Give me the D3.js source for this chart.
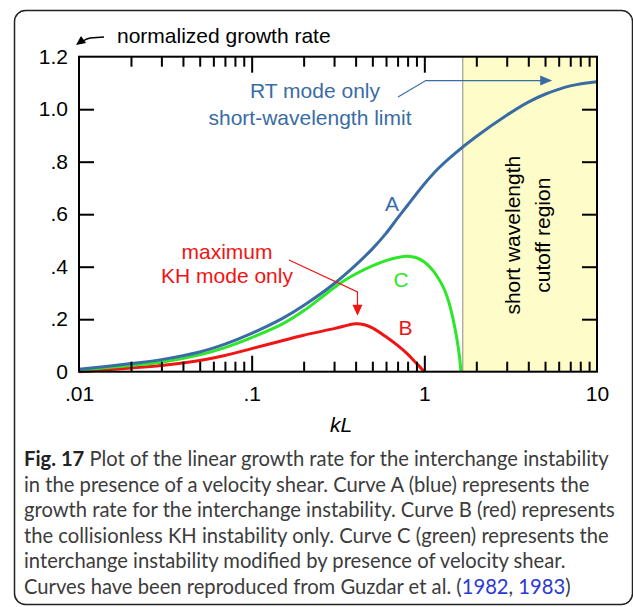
<!DOCTYPE html>
<html>
<head>
<meta charset="utf-8">
<script src="https://cdn.jsdelivr.net/npm/d3@7"></script>
<style>
  body { margin: 0; background: #fff; }
  svg { display: block; }
</style>
</head>
<body>
<svg id="chart" width="633" height="607"></svg>
<script>
// Curve A (blue): interchange growth rate
const kA = [0.01, 0.02, 0.03, 0.05, 0.07, 0.1, 0.15, 0.2, 0.3, 0.4, 0.5, 0.6, 0.7, 0.8, 1.0, 1.2, 1.5, 2, 3, 4, 5, 7, 10];
const gA = [0.009, 0.031, 0.046, 0.075, 0.105, 0.146, 0.202, 0.252, 0.335, 0.406, 0.468, 0.527, 0.585, 0.634, 0.715, 0.773, 0.831, 0.896, 0.977, 1.027, 1.057, 1.089, 1.105];

// Curve B (red): collisionless KH instability only
const kB = [0.01, 0.02, 0.03, 0.05, 0.07, 0.1, 0.15, 0.2, 0.3, 0.4, 0.45, 0.5, 0.6, 0.7, 0.8, 0.9, 1.0];
const gB = [0.0, 0.014, 0.024, 0.043, 0.062, 0.088, 0.118, 0.139, 0.164, 0.183, 0.179, 0.167, 0.133, 0.1, 0.067, 0.032, 0];

// Curve C (green): interchange modified by velocity shear
const kC = [0.01, 0.02, 0.03, 0.05, 0.07, 0.1, 0.15, 0.2, 0.25, 0.3, 0.35, 0.4, 0.5, 0.6, 0.7, 0.8, 0.9, 1.0, 1.1, 1.2, 1.3, 1.4, 1.5, 1.55, 1.6, 1.63];
const gC = [0.006, 0.024, 0.036, 0.064, 0.092, 0.13, 0.181, 0.232, 0.28, 0.32, 0.35, 0.372, 0.403, 0.423, 0.435, 0.44, 0.434, 0.418, 0.392, 0.358, 0.316, 0.255, 0.17, 0.118, 0.055, 0];

// Axis ticks
const xTickValues = [0.01, 0.1, 1, 10];
const xTickLabels = [".01", ".1", "1", "10"];
const yTickValues = [0, 0.2, 0.4, 0.6, 0.8, 1.0, 1.2];
const yTickLabels = ["0", ".2", ".4", ".6", ".8", "1.0", "1.2"];

// Start of the short-wavelength cutoff band (kL)
const cutoffStart = 1.67;

const captionLines = [
  [["Fig. 17", "bold"], [" Plot of the linear growth rate for the interchange instability", "plain"]],
  [["in the presence of a velocity shear. Curve A (blue) represents the", "plain"]],
  [["growth rate for the interchange instability. Curve B (red) represents", "plain"]],
  [["the collisionless KH instability only. Curve C (green) represents the", "plain"]],
  [["interchange instability modified by presence of velocity shear.", "plain"]],
  [["Curves have been reproduced from Guzdar et al. (", "plain"], ["1982", "link"], [", ", "plain"], ["1983", "link"], [")", "plain"]]
];

const BLUE = "#3a6ca4", RED = "#f01414", GREEN = "#2ee62a", YELLOW = "#fefdc9";
const FONT = "'Liberation Sans', Arial, Helvetica, sans-serif";

const svg = d3.select("#chart");

// Outer panel
svg.append("rect")
  .attr("x", 14.5).attr("y", 10.5)
  .attr("width", 618).attr("height", 594)
  .attr("rx", 11)
  .attr("fill", "none").attr("stroke", "#222").attr("stroke-width", 1.5);

const x = d3.scaleLog().domain([0.01, 10]).range([79, 597]);
const y = d3.scaleLinear().domain([0, 1.2]).range([371.7, 56.7]);

// Short wavelength cutoff band
svg.append("rect")
  .attr("x", x(cutoffStart)).attr("y", y(1.2))
  .attr("width", x(10) - x(cutoffStart)).attr("height", y(0) - y(1.2))
  .attr("fill", YELLOW);
svg.append("line")
  .attr("x1", x(cutoffStart)).attr("x2", x(cutoffStart))
  .attr("y1", y(1.2)).attr("y2", y(0))
  .attr("stroke", "#8a8a80").attr("stroke-width", 1);

svg.append("text")
  .attr("transform", `translate(${x(cutoffStart) + 57},${y(0.52)}) rotate(-90)`)
  .attr("text-anchor", "middle")
  .attr("font-family", FONT).attr("font-size", 21)
  .text("short wavelength");
svg.append("text")
  .attr("transform", `translate(${x(cutoffStart) + 87},${y(0.52)}) rotate(-90)`)
  .attr("text-anchor", "middle")
  .attr("font-family", FONT).attr("font-size", 21)
  .text("cutoff region");

// Curves
const line = d3.line()
  .x(d => x(d[0]))
  .y(d => y(d[1]))
  .curve(d3.curveCatmullRom.alpha(0.5));

const series = [
  { k: kB, g: gB, color: RED },
  { k: kC, g: gC, color: GREEN },
  { k: kA, g: gA, color: BLUE }
];
series.forEach(s => {
  svg.append("path")
    .datum(d3.zip(s.k, s.g))
    .attr("d", line)
    .attr("fill", "none")
    .attr("stroke", s.color)
    .attr("stroke-width", 3)
    .attr("stroke-linejoin", "round");
});

// Ticks
const minorX = [];
[0.01, 0.1, 1].forEach(dec => { for (let m = 2; m <= 9; m++) minorX.push(+(m * dec).toPrecision(3)); });
const majorX = [0.1, 1];
const innerY = [0.2, 0.4, 0.6, 0.8, 1.0];

function styleTicks(g) {
  g.select(".domain").remove();
  g.selectAll(".tick line").attr("stroke", "#000").attr("stroke-width", 2);
  g.selectAll(".tick text").remove();
}

svg.append("g").attr("transform", `translate(0,${y(0)})`)
  .call(d3.axisBottom(x).tickValues(minorX).tickSizeInner(-10).tickSizeOuter(0)).call(styleTicks);
svg.append("g").attr("transform", `translate(0,${y(0)})`)
  .call(d3.axisBottom(x).tickValues(majorX).tickSizeInner(-16).tickSizeOuter(0)).call(styleTicks);
svg.append("g").attr("transform", `translate(0,${y(1.2)})`)
  .call(d3.axisTop(x).tickValues(minorX).tickSizeInner(-10).tickSizeOuter(0)).call(styleTicks);
svg.append("g").attr("transform", `translate(0,${y(1.2)})`)
  .call(d3.axisTop(x).tickValues(majorX).tickSizeInner(-16).tickSizeOuter(0)).call(styleTicks);
svg.append("g").attr("transform", `translate(${x(0.01)},0)`)
  .call(d3.axisLeft(y).tickValues(innerY).tickSizeInner(-15).tickSizeOuter(0)).call(styleTicks);
svg.append("g").attr("transform", `translate(${x(10)},0)`)
  .call(d3.axisRight(y).tickValues(innerY).tickSizeInner(-15).tickSizeOuter(0)).call(styleTicks);

// Tick labels
function styleLabels(g) {
  g.select(".domain").remove();
  g.selectAll(".tick line").remove();
  g.selectAll(".tick text").attr("font-family", FONT).attr("font-size", 21).attr("fill", "#000");
}
svg.append("g").attr("transform", `translate(0,${y(0)})`)
  .call(d3.axisBottom(x).tickValues(xTickValues).tickSize(0).tickPadding(14)
    .tickFormat((d, i) => xTickLabels[i]))
  .call(styleLabels);
svg.append("g").attr("transform", `translate(${x(0.01)},0)`)
  .call(d3.axisLeft(y).tickValues(yTickValues).tickSize(0).tickPadding(11)
    .tickFormat((d, i) => yTickLabels[i]))
  .call(styleLabels);

// Plot frame
svg.append("rect")
  .attr("x", x(0.01)).attr("y", y(1.2))
  .attr("width", x(10) - x(0.01)).attr("height", y(0) - y(1.2))
  .attr("fill", "none").attr("stroke", "#000").attr("stroke-width", 2);

// Axis titles
svg.append("text")
  .attr("x", 117).attr("y", 43)
  .attr("font-family", FONT).attr("font-size", 21)
  .text("normalized growth rate");
svg.append("path")
  .attr("d", "M104,37 L90,38 Q86,39 83,41")
  .attr("fill", "none").attr("stroke", "#000").attr("stroke-width", 1.3);
svg.append("path")
  .attr("d", "M76,45 L81,36 L86,43 Z")
  .attr("fill", "#000");

svg.append("text")
  .attr("x", (x(0.01) + x(10)) / 2 + 3).attr("y", 431.5)
  .attr("text-anchor", "middle")
  .attr("font-family", FONT).attr("font-size", 21).attr("font-style", "italic")
  .text("kL");

// Annotations
function label(txt, px, py, color, anchor = "middle") {
  svg.append("text")
    .attr("x", px).attr("y", py)
    .attr("text-anchor", anchor)
    .attr("font-family", FONT).attr("font-size", 21)
    .attr("fill", color)
    .text(txt);
}
label("RT mode only", 315, 98, BLUE);
label("short-wavelength limit", 310, 125, BLUE);
label("A", 392, 210.5, BLUE);
label("C", 401, 286.5, GREEN);
label("B", 405.5, 335, RED);
label("maximum", 227, 258.5, RED);
label("KH mode only", 227, 283, RED);

// Arrow to the RT short-wavelength limit
const limY = y(1.109);
svg.append("polyline")
  .attr("points", `398,97 ${x(1.02)},${limY} ${x(5.3)},${limY}`)
  .attr("fill", "none").attr("stroke", BLUE).attr("stroke-width", 1.2);
svg.append("path")
  .attr("d", `M${x(5.5)},${limY} l-12,-5 l0,10 Z`)
  .attr("fill", BLUE);

// Arrow to the KH maximum
const peakX = x(0.41);
svg.append("polyline")
  .attr("points", `289,260 ${peakX},292 ${peakX},306`)
  .attr("fill", "none").attr("stroke", RED).attr("stroke-width", 1.2);
svg.append("path")
  .attr("d", `M${peakX},${y(0.213)} l-5,-11 l10,0 Z`)
  .attr("fill", RED);

// Caption
const CAP_FONT = "Lato, 'Noto Sans', sans-serif";
const capX = 24, capY0 = 466, capStep = 25.6, capWidth = 585;
const cap = svg.append("g").attr("font-family", CAP_FONT).attr("fill", "#3c3c3c");
const lines = captionLines.map((spans, i) => {
  const t = cap.append("text").attr("x", capX).attr("y", capY0 + i * capStep).attr("font-size", 20);
  spans.forEach(([txt, kind]) => {
    const ts = t.append("tspan").text(txt);
    if (kind === "bold") ts.attr("font-weight", "bold").attr("fill", "#222");
    if (kind === "link") ts.attr("fill", "#2b39d4");
  });
  return t;
});
// Size the caption so the first line fills the panel width
const w0 = lines[0].node().getComputedTextLength();
const capSize = 20 * capWidth / w0;
lines.forEach(t => t.attr("font-size", capSize));
</script>
</body>
</html>
